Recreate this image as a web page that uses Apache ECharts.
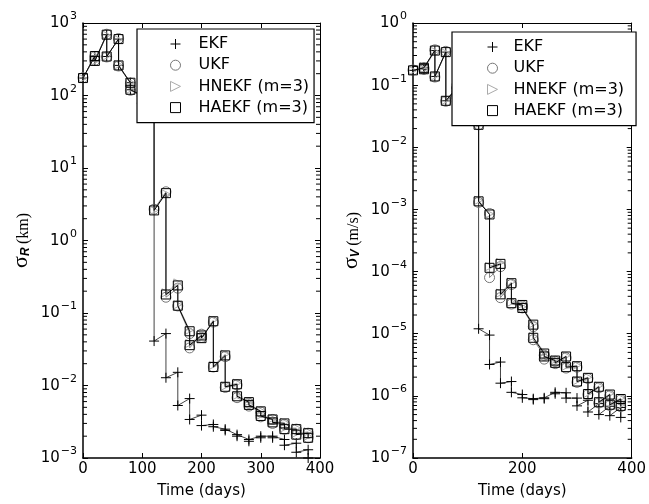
<!DOCTYPE html>
<html>
<head>
<meta charset="utf-8">
<script src="https://cdn.jsdelivr.net/npm/echarts@6/dist/echarts.min.js"></script>
<style>
  html, body { margin: 0; padding: 0; background: #fff; }
  #chart { width: 649px; height: 504px; }
</style>
</head>
<body>
<div id="chart"></div>
<script>
// time of each sample: t=0 once, then predicted / updated pair at every step
const days = [0, 20,20, 40,40, 60,60, 80,80, 100,100, 120,120, 140,140, 160,160, 180,180, 200,200,
  220,220, 240,240, 260,260, 280,280, 300,300, 320,320, 340,340, 360,360, 380,380];

// sigma_R (km)
const rEKF = [174, 350,300, 690,345, 600,260, 150,120, 100,80, 70,0.041, 0.052,0.0128, 0.0152,0.0053,
  0.0066,0.0034, 0.0039,0.0028, 0.0029,0.0027, 0.0025,0.0024, 0.0021,0.0020, 0.0018,0.0017,
  0.0020,0.0019, 0.0020,0.0019, 0.0018,0.0015, 0.0016,0.0012, 0.0013,0.0010];
const rUKF = [176, 345,305, 700,340, 610,255, 148,118, 98,78, 68,2.7, 4.7,0.165, 0.22,0.125,
  0.052,0.033, 0.051,0.046, 0.075,0.018, 0.025,0.0094, 0.0102,0.0068, 0.0057,0.0052,
  0.0043,0.0037, 0.0034,0.0030, 0.0029,0.0025, 0.0025,0.0021, 0.0022,0.0019];
const rHNEKF = [172, 355,298, 680,350, 590,265, 152,122, 102,82, 72,2.6, 4.4,0.19, 0.26,0.13,
  0.058,0.038, 0.05,0.046, 0.08,0.019, 0.027,0.0098, 0.0108,0.0073, 0.006,0.0055,
  0.0045,0.0039, 0.0035,0.0032, 0.0031,0.0026, 0.0026,0.0022, 0.0023,0.002];
const rHAEKF = [174, 350,300, 690,345, 600,260, 150,120, 100,80, 70,2.6, 4.5,0.18, 0.24,0.126,
  0.056,0.036, 0.049,0.045, 0.077,0.018, 0.026,0.0096, 0.0104,0.0071, 0.0059,0.0054,
  0.0044,0.0038, 0.0034,0.0031, 0.0030,0.0025, 0.0025,0.0021, 0.0022,0.0019];

// sigma_V (m/s)
const vEKF = [0.173, 0.19,0.18, 0.36,0.138, 0.34,0.056, 0.09,0.07, 0.06,0.045, 0.023,1.2e-5,
  9.5e-6,3.2e-6, 3.5e-6,1.6e-6, 1.7e-6,1.14e-6, 1.05e-6,0.93e-6, 0.9e-6,0.87e-6, 0.93e-6,0.9e-6,
  1.14e-6,1.08e-6, 1.12e-6,0.92e-6, 0.92e-6,0.69e-6, 0.85e-6,0.55e-6, 0.75e-6,0.5e-6,
  0.68e-6,0.48e-6, 0.65e-6,0.45e-6];
const vUKF = [0.175, 0.19,0.18, 0.37,0.135, 0.35,0.055, 0.09,0.07, 0.06,0.045, 0.023,1.3e-3,
  8.6e-4,8.0e-5, 1.2e-4,3.8e-5, 6.2e-5,3.0e-5, 2.8e-5,2.6e-5, 1.3e-5,8.0e-6, 4.5e-6,3.9e-6,
  3.6e-6,3.3e-6, 4.1e-6,2.8e-6, 2.9e-6,1.65e-6, 1.9e-6,1.05e-6, 1.35e-6,7.7e-7, 1.0e-6,7.0e-7,
  8.6e-7,6.7e-7];
const vHNEKF = [0.172, 0.2,0.18, 0.35,0.14, 0.33,0.057, 0.09,0.07, 0.06,0.045, 0.024,1.4e-3,
  8.5e-4,1.2e-4, 1.4e-4,4.5e-5, 6.8e-5,3.2e-5, 3.0e-5,2.7e-5, 1.45e-5,9.0e-6, 5.0e-6,4.4e-6,
  3.8e-6,3.5e-6, 4.4e-6,3.0e-6, 3.1e-6,1.75e-6, 2.0e-6,1.1e-6, 1.45e-6,8.1e-7, 1.08e-6,7.4e-7,
  9.2e-7,7.1e-7];
const vHAEKF = [0.173, 0.19,0.18, 0.36,0.138, 0.34,0.056, 0.09,0.07, 0.06,0.045, 0.023,1.35e-3,
  8.3e-4,1.15e-4, 1.33e-4,4.3e-5, 6.5e-5,3.1e-5, 2.9e-5,2.6e-5, 1.4e-5,8.6e-6, 4.8e-6,4.3e-6,
  3.7e-6,3.4e-6, 4.3e-6,2.9e-6, 3.0e-6,1.7e-6, 1.95e-6,1.07e-6, 1.4e-6,7.9e-7, 1.05e-6,7.2e-7,
  8.9e-7,6.9e-7];

const names = ['EKF', 'UKF', 'HNEKF (m=3)', 'HAEKF (m=3)'];
const xTicksL = 100, xTicksR = 200;

const FONT = 'DejaVu Sans';
const crossPath = 'path://M5,0L5,10M0,5L10,5';
const triPath = 'path://M0,0L10,5L0,10Z';

function pairs(vals) {
  return vals.map((v, i) => [days[i], v]);
}

// minor log ticks 2..9 per decade at a given x (frame edge)
function minorTicks(lo, hi, x) {
  let out = [];
  for (let e = lo; e < hi; e++) {
    for (let k = 2; k <= 9; k++) out.push([x, k * Math.pow(10, e)]);
  }
  return out;
}

function supLabel(v) {
  let e = Math.round(Math.log10(v));
  return '{b|10}{s|' + (e < 0 ? '\u2212' + (-e) : e) + '}';
}

const labelRich = {
  b: { fontSize: 15, fontFamily: FONT, color: '#000', lineHeight: 16, verticalAlign: 'bottom' },
  s: { fontSize: 11, fontFamily: FONT, color: '#000', lineHeight: 11, verticalAlign: 'bottom', padding: [0, 0, 9, 1] }
};

function makeXAxes(grid, interval) {
  let base = {
    gridIndex: grid, type: 'value', min: 0, max: 400, interval: interval,
    splitLine: { show: false },
    axisLine: { lineStyle: { color: '#000', width: 1.5 } },
    axisTick: { inside: true, length: 5, lineStyle: { color: '#000' } }
  };
  return [
    Object.assign({}, base, {
      position: 'bottom',
      name: 'Time (days)', nameLocation: 'middle', nameGap: 26,
      nameTextStyle: { fontFamily: FONT, fontSize: 15, color: '#000' },
      axisLabel: { fontFamily: FONT, fontSize: 15, color: '#000', margin: 4 }
    }),
    Object.assign({}, base, { position: 'top', axisLabel: { show: false }, axisLine: { lineStyle: { color: '#000', width: 1 } } })
  ];
}

function makeYAxes(grid, lo, hi, sub, unit) {
  let base = {
    gridIndex: grid, type: 'log', logBase: 10, min: Math.pow(10, lo), max: Math.pow(10, hi), interval: 1,
    splitLine: { show: false },
    axisLine: { onZero: false, lineStyle: { color: '#000', width: 1.5 } },
    axisTick: { inside: true, length: 5, lineStyle: { color: '#000' } }
  };
  return [
    Object.assign({}, base, {
      position: 'left',
      name: '{s|\u03c3}{r|' + sub + '} {u|(' + unit + ')}',
      nameLocation: 'middle', nameRotate: 90, nameGap: 51,
      nameTextStyle: {
        color: '#000',
        rich: {
          s: { fontFamily: 'Liberation Serif', fontSize: 22, color: '#000', lineHeight: 24, verticalAlign: 'bottom' },
          r: { fontFamily: 'Liberation Sans', fontSize: 12, fontStyle: 'italic', fontWeight: 'bold', color: '#000', lineHeight: 12, verticalAlign: 'bottom' },
          u: { fontFamily: 'Liberation Serif', fontSize: 16, color: '#000', lineHeight: 24, verticalAlign: 'bottom' }
        }
      },
      axisLabel: { formatter: supLabel, rich: labelRich, margin: 6 }
    }),
    Object.assign({}, base, { position: 'right', axisLabel: { show: false }, axisLine: { onZero: false, lineStyle: { color: '#000', width: 1 } } })
  ];
}

const styles = [
  { symbol: crossPath, size: 10, line: '#444', mark: '#000' },
  { symbol: 'circle', size: 10, line: '#888', mark: '#777' },
  { symbol: triPath, size: 8, line: '#bbb', mark: '#aaa' },
  { symbol: 'rect', size: 9, line: '#000', mark: '#000' }
];

function makeSeries(grid, sets) {
  // draw order: HNEKF, UKF, EKF, HAEKF on top
  let order = [2, 1, 0, 3];
  return order.map(k => ({
    name: names[k], type: 'line',
    xAxisIndex: grid * 2, yAxisIndex: grid * 2,
    data: pairs(sets[k]),
    symbol: styles[k].symbol, symbolSize: styles[k].size, showAllSymbol: true,
    lineStyle: { color: styles[k].line, width: 1 },
    itemStyle: { color: 'transparent', borderColor: styles[k].mark, borderWidth: 1 },
    emphasis: { disabled: true },
    z: 2 + k
  }));
}

// minor ticks drawn as thin rect markers sitting on the frame, pointing inward
function tickSeries(grid, lo, hi, x, dir) {
  return {
    type: 'scatter', xAxisIndex: grid * 2, yAxisIndex: grid * 2,
    silent: true, clip: false,
    data: minorTicks(lo, hi, x),
    symbol: 'rect', symbolSize: [4, 1], symbolOffset: [2 * dir, 0],
    itemStyle: { color: '#000', opacity: 1 },
    emphasis: { disabled: true },
    z: 10
  };
}

function makeLegend(left, top, padLeft, textGap, padRight) {
  return {
    orient: 'vertical', left: left, top: top, z: 20,
    itemWidth: 10, itemHeight: 10, itemGap: 3.2,
    padding: [6, padRight, 6, padLeft],
    backgroundColor: '#fff', borderColor: '#000', borderWidth: 1.2,
    itemStyle: { borderWidth: 1 },
    selectedMode: false,
    textStyle: { fontFamily: FONT, fontSize: 16, lineHeight: 18, color: '#000', padding: [0, 0, 0, textGap] },
    data: [
      { name: names[0], icon: crossPath },
      { name: names[1], icon: 'circle' },
      { name: names[2], icon: triPath },
      { name: names[3], icon: 'rect' }
    ]
  };
}

const chart = echarts.init(document.getElementById('chart'));
const option = {
  animation: false,
  backgroundColor: '#fff',
  grid: [
    { left: 83, top: 23, width: 237, height: 436 },
    { left: 413, top: 23, width: 222, height: 436 }
  ],
  xAxis: makeXAxes(0, xTicksL).concat(makeXAxes(1, xTicksR)),
  yAxis: makeYAxes(0, -3, 3, 'R', 'km').concat(makeYAxes(1, -7, 0, 'V', 'm/s')),
  legend: [makeLegend(137, 29, 33, 13, 5), makeLegend(452, 32, 35, 11, 12)],
  series: makeSeries(0, [rEKF, rUKF, rHNEKF, rHAEKF])
    .concat(makeSeries(1, [vEKF, vUKF, vHNEKF, vHAEKF]))
    .concat([
      tickSeries(0, -3, 3, 0, 1), tickSeries(0, -3, 3, 400, -1),
      tickSeries(1, -7, 0, 0, 1), tickSeries(1, -7, 0, 400, -1)
    ])
};
chart.setOption(option);
</script>
</body>
</html>
